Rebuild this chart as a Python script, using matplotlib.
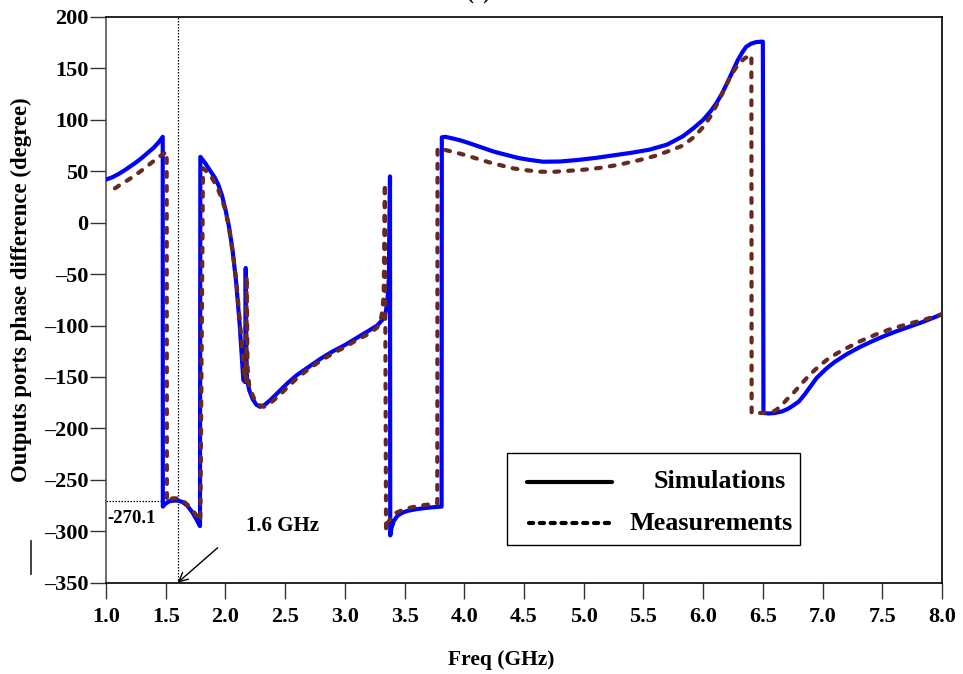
import matplotlib
matplotlib.use("Agg")
import matplotlib.pyplot as plt
from matplotlib.lines import Line2D
from matplotlib.patches import Rectangle

plt.rcParams['font.family'] = ['Liberation Serif', 'DejaVu Serif']
plt.rcParams['font.weight'] = 'bold'

# Simulated output-port phase difference (degrees) vs frequency (GHz)
sim_freq = [1.00, 1.05, 1.10, 1.15, 1.20, 1.25, 1.30, 1.35, 1.40, 1.44, 1.475,
            1.476, 1.50, 1.53, 1.56, 1.60, 1.64, 1.68, 1.72, 1.76, 1.787,
            1.790, 1.83, 1.87, 1.91, 1.94, 1.97, 2.00, 2.03, 2.06, 2.09, 2.12,
            2.15, 2.165, 2.17, 2.175, 2.18, 2.20, 2.23, 2.26, 2.29, 2.33, 2.38,
            2.45, 2.52, 2.60, 2.70, 2.80, 2.90, 3.00, 3.10, 3.20, 3.27, 3.31,
            3.34, 3.355, 3.368, 3.378, 3.380, 3.39, 3.41, 3.44, 3.48, 3.53,
            3.60, 3.70, 3.81, 3.812, 3.84, 3.90, 3.97, 4.05, 4.15, 4.25, 4.35,
            4.45, 4.55, 4.66, 4.80, 4.95, 5.10, 5.25, 5.40, 5.55, 5.70, 5.83,
            5.92, 6.00, 6.06, 6.11, 6.16, 6.21, 6.25, 6.29, 6.33, 6.36, 6.40,
            6.44, 6.48, 6.50, 6.505, 6.55, 6.60, 6.66, 6.71, 6.75, 6.80, 6.85,
            6.90, 6.95, 7.03, 7.10, 7.20, 7.31, 7.42, 7.52, 7.62, 7.73, 7.85,
            8.00]
sim_phase = [42, 44, 47, 50.5, 54.5, 58.5, 63, 68, 73, 78, 83.5,
             -276, -273, -270.8, -270.2, -270.1, -271.5, -275, -281, -289, -295,
             64, 58, 51, 44, 37, 27, 13, -4, -27, -58, -100,
             -153, -155, -44, -120, -152, -163, -172, -177, -179, -177, -172,
             -164, -156, -148, -140, -132, -125, -119, -112, -105, -100, -95,
             -88, -78, -55, 45, -304, -297, -290, -285, -282, -280,
             -278.5, -277, -276, 83, 83.5, 82, 80, 77, 73, 69, 66,
             63, 61, 59.3, 59.5, 61, 63, 65.5, 68, 71, 76, 84,
             92, 100, 108, 116, 126, 138, 148, 158, 166, 171, 174,
             175.5, 176, 176, -185, -185.5, -185, -183.5, -181, -178, -174, -167,
             -159, -151, -142, -135.5, -128, -121, -115, -110, -105.5, -101, -96,
             -89]

# Measured output-port phase difference (degrees) vs frequency (GHz)
meas_freq = [1.075, 1.12, 1.17, 1.23, 1.29, 1.35, 1.40, 1.45, 1.508,
             1.510, 1.53, 1.56, 1.60, 1.64, 1.68, 1.72, 1.76, 1.79,
             1.812, 1.85, 1.89, 1.93, 1.97, 2.00, 2.03, 2.06, 2.09, 2.12, 2.16,
             2.172, 2.178, 2.185, 2.20, 2.24, 2.28, 2.32, 2.37, 2.44, 2.52, 2.60,
             2.70, 2.80, 2.90, 3.00, 3.10, 3.20, 3.27, 3.30, 3.315, 3.325,
             3.335, 3.345, 3.36, 3.39, 3.43, 3.48, 3.55, 3.63, 3.70, 3.774,
             3.776, 3.84, 3.92, 4.00, 4.10, 4.20, 4.30, 4.40, 4.52, 4.63, 4.75,
             4.88, 5.00, 5.15, 5.30, 5.47, 5.60, 5.72, 5.83, 5.92, 6.00, 6.06,
             6.12, 6.17, 6.22, 6.27, 6.31, 6.35, 6.39, 6.404,
             6.406, 6.48, 6.55, 6.60, 6.65, 6.70, 6.76, 6.82, 6.895, 6.97, 7.05,
             7.15, 7.31, 7.45, 7.58, 7.73, 7.86, 8.00]
meas_phase = [33.4, 37, 40.5, 45, 50, 55.5, 60, 64.5, 69,
              -271, -269, -268, -268, -270, -274, -279, -285, -290,
              53, 49, 43, 35, 23, 12, -5, -28, -55, -95, -150,
              -155, -52, -140, -160, -171, -177, -179, -176, -169, -160, -151,
              -142, -134, -127, -121, -114, -108, -102, -95, -85, -70,
              38, -299, -292, -286, -282, -279.5, -277, -275, -274, -273,
              72, 70.7, 68.5, 66, 62.5, 59, 56, 53, 51, 49.6, 49.5,
              50.5, 51.5, 53.5, 56.5, 61, 65, 70, 75, 83, 93, 103,
              116, 128, 140, 150, 156, 160, 162.5, 163,
              -185, -185, -184.5, -183, -178.5, -172, -165, -157, -147.5, -139.5, -132,
              -125, -115.5, -108.5, -103, -98, -94, -89]

x_ticks = [1.0, 1.5, 2.0, 2.5, 3.0, 3.5, 4.0, 4.5, 5.0, 5.5, 6.0, 6.5, 7.0, 7.5, 8.0]
y_ticks = [-350, -300, -250, -200, -150, -100, -50, 0, 50, 100, 150, 200]

marker_freq = 1.6
marker_phase = -270.1

W, H = 963, 674
fig = plt.figure(figsize=(W / 100, H / 100), dpi=100)
ax = fig.add_axes([106 / W, 1 - 582.7 / H, (942 - 106) / W, (582.7 - 17) / H])

sim_color = '#0000ff'
meas_color = '#672a22'

ax.plot(sim_freq, sim_phase, color=sim_color, lw=3.0, solid_joinstyle='round',
        zorder=3)
ax.plot(meas_freq, meas_phase, color=meas_color, lw=3.0, dashes=(1.15, 2.2),
        dash_capstyle='round', zorder=4)

ax.set_xlim(1.0, 8.0)
ax.set_ylim(-350, 200)
ax.set_xticks(x_ticks)
ax.set_xticklabels([f"{v:.1f}" for v in x_ticks])
ax.set_yticks(y_ticks)
ax.set_yticklabels([str(v).replace('-', '\u2013') for v in y_ticks])

ax.tick_params(axis='both', direction='out', length=11.5, width=1.0,
               labelsize=16, color='#333333')
ax.tick_params(axis='y', pad=1)
ax.tick_params(axis='x', pad=6)
for lab in ax.get_xticklabels() + ax.get_yticklabels():
    lab.set_fontweight('bold')

ax.spines['left'].set_color('#555555')
ax.spines['left'].set_linewidth(1.2)
for s in ('top', 'bottom', 'right'):
    ax.spines[s].set_color('black')
    ax.spines[s].set_linewidth(1.2)

# marker lines at 1.6 GHz
ax.plot([marker_freq, marker_freq], [-350, 200], color='black', lw=0.9,
        ls=(0, (1.2, 1.2)), zorder=2)
ax.plot([1.0, marker_freq], [marker_phase, marker_phase], color='black', lw=0.9,
        ls=(0, (1.2, 1.2)), zorder=2)
ax.text(1.015, -288, f"{marker_phase}", fontsize=13.5, fontweight='bold',
        ha='left', va='center')
ax.annotate("", xy=(marker_freq, -350), xytext=(1.935, -316),
            arrowprops=dict(arrowstyle='->', color='black', lw=1.0,
                            mutation_scale=16, shrinkA=0, shrinkB=0))
ax.text(2.48, -295, f"{marker_freq} GHz", fontsize=15, fontweight='bold',
        ha='center', va='center')

# legend box
ax.add_patch(Rectangle((0.4797, 0.0666), 0.8305 - 0.4797, 0.2293 - 0.0666,
                       transform=ax.transAxes, facecolor='white',
                       edgecolor='black', lw=1.0, zorder=5))
ax.add_line(Line2D([0.5036, 0.6053], [0.1785, 0.1785], transform=ax.transAxes,
                   color='black', lw=3.0, solid_capstyle='round', zorder=6))
ax.add_line(Line2D([0.5055, 0.6053], [0.1050, 0.1050], transform=ax.transAxes,
                   color='black', lw=3.0, dashes=(1.0, 1.6),
                   dash_capstyle='round', zorder=6))
ax.text(0.8134, 0.1785, "Simulations", transform=ax.transAxes, fontsize=18.8,
        fontweight='bold', ha='right', va='center', zorder=6)
ax.text(0.8218, 0.1040, "Measurements", transform=ax.transAxes, fontsize=18.8,
        fontweight='bold', ha='right', va='center', zorder=6)

fig.text(501 / W, 1 - 660 / H, "Freq (GHz)", fontsize=15.5, fontweight='bold',
         ha='center', va='center')
fig.text(21 / W, 1 - 290 / H, "Outputs ports phase difference (degree)",
         fontsize=16.4, fontweight='bold', rotation=90, ha='center', va='center')
fig.text(478 / W, 1.008, "(a)", fontsize=15, fontweight='bold', ha='center',
         va='center')
fig.add_artist(Line2D([31 / W, 31 / W], [1 - 574 / H, 1 - 541 / H],
                      color='#333333', lw=1.3))

fig.savefig("out.png", dpi=100, facecolor='white')
